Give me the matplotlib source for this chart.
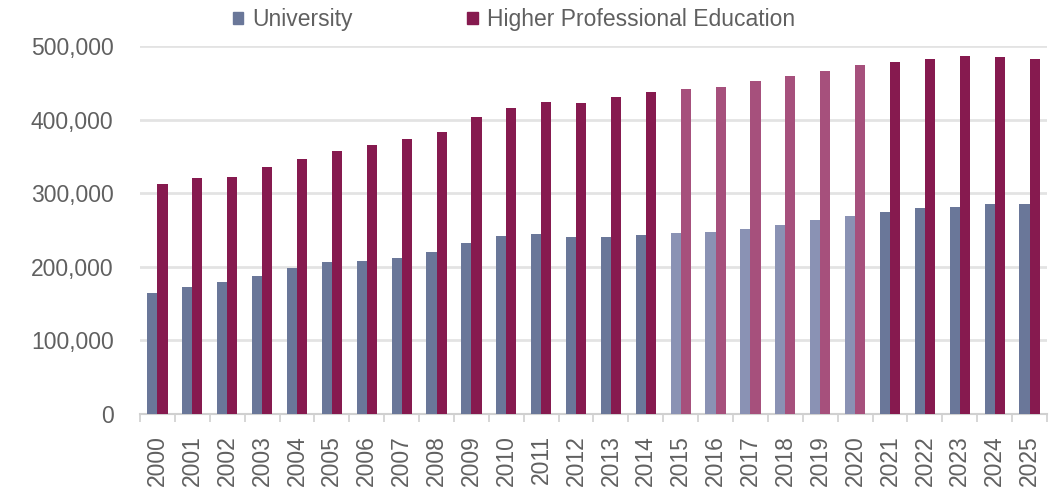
import numpy as np
import matplotlib.pyplot as plt
from matplotlib.patches import Patch
from matplotlib.ticker import FuncFormatter

plt.rcParams['font.family'] = ['Liberation Sans', 'DejaVu Sans']

# Enrolment per year, 2000-2025
years = list(range(2000, 2026))
university = [165000, 172000, 179000, 188000, 199000, 206000, 208000, 212000,
              220000, 232000, 242000, 245000, 240000, 240000, 243000, 246000,
              248000, 252000, 257000, 263000, 269000, 275000, 280000, 282000,
              285000, 285000]
hpe = [312000, 321000, 322000, 336000, 346000, 357000, 366000, 374000,
       383000, 403000, 416000, 424000, 422000, 431000, 437000, 441000,
       445000, 452000, 459000, 466000, 474000, 479000, 483000, 486000,
       485000, 482000]
series_names = ['University', 'Higher Professional Education']

# years drawn in the lighter shade
light_years = range(2015, 2021)

uni_dark, uni_light = '#6a7799', '#8a92b4'
hpe_dark, hpe_light = '#861a4f', '#a6507c'

uni_colors = [uni_light if y in light_years else uni_dark for y in years]
hpe_colors = [hpe_light if y in light_years else hpe_dark for y in years]

fig = plt.figure(figsize=(10.55, 4.9), dpi=100)
ax = fig.add_axes([0.1327, 0.155, 0.8597, 0.751])

x = np.arange(len(years))
w = 0.29
ax.bar(x - w / 2, university, w, color=uni_colors, zorder=3)
ax.bar(x + w / 2, hpe, w, color=hpe_colors, zorder=3)

ax.set_xlim(-0.5, len(years) - 0.5)
ax.set_ylim(0, 500000)
ax.set_yticks(np.arange(0, 500001, 100000))
ax.yaxis.set_major_formatter(FuncFormatter(lambda v, p: f'{int(v):,}'))
ax.yaxis.grid(True, color='#e3e3e3', linewidth=2)
ax.set_axisbelow(True)

ax.set_xticks(x)
ax.set_xticklabels([str(y) for y in years], rotation=90)
ax.set_xticks(np.arange(-0.5, len(years)), minor=True)
ax.tick_params(axis='x', which='major', length=0, pad=15,
               labelsize=16.5, labelcolor='#606060')
ax.tick_params(axis='x', which='minor', length=6, color='#d0d0d0', width=1.2)
ax.tick_params(axis='y', length=0, pad=19, labelsize=16.5, labelcolor='#606060')

for side in ['top', 'right', 'left']:
    ax.spines[side].set_visible(False)
ax.spines['bottom'].set_color('#d0d0d0')
ax.spines['bottom'].set_linewidth(1.5)

handles = [Patch(color=uni_dark), Patch(color=hpe_dark)]
fig.legend(handles, series_names, loc='upper center',
           bbox_to_anchor=(0.487, 1.025), ncol=2, frameon=False,
           fontsize=16.5, labelcolor='#606060', handlelength=0.45,
           handleheight=0.45, handletextpad=0.4, columnspacing=5.0)

fig.savefig('out.png', dpi=100)
